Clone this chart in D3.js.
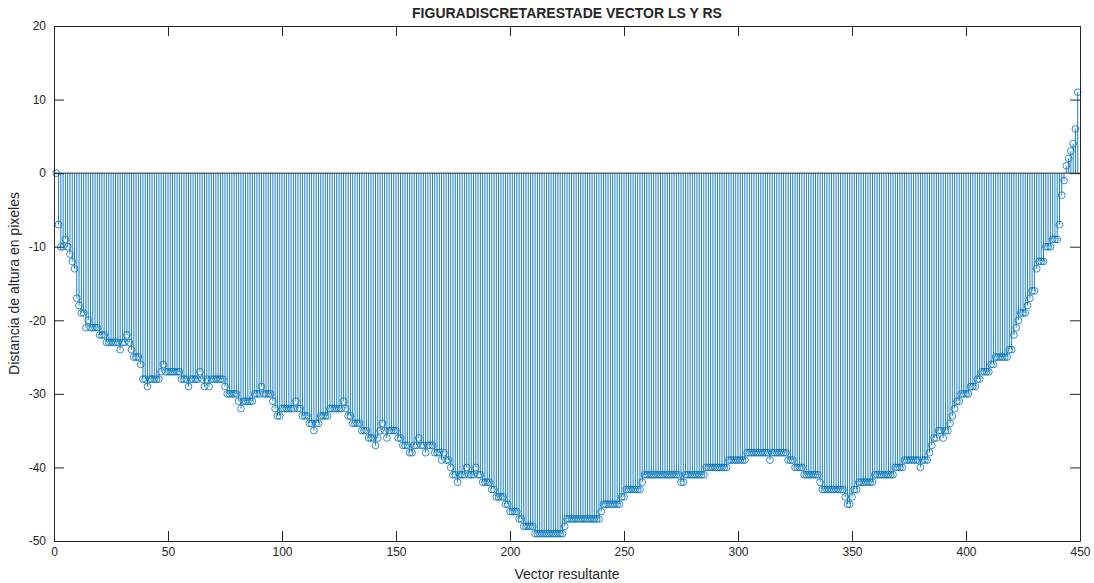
<!DOCTYPE html>
<html>
<head>
<meta charset="utf-8">
<script src="https://cdn.jsdelivr.net/npm/d3@7"></script>
<style>
  body { margin: 0; background: #fff; }
  svg { display: block; }
  text { font-family: "Liberation Sans", Arial, sans-serif; fill: #262626; }
</style>
</head>
<body>
<div class="chart"></div>
<script>
// values, sample 1..449
const diffValues = [
  0, -7, -10, -10, -9, -10, -11, -12, -13, -17,
  -18, -19, -19, -21, -20, -21, -21, -21, -21, -22,
  -22, -22, -23, -23, -23, -23, -23, -23, -24, -23,
  -23, -22, -23, -24, -25, -25, -25, -26, -28, -28,
  -29, -28, -28, -28, -28, -28, -27, -26, -27, -27,
  -27, -27, -27, -27, -27, -28, -28, -28, -29, -28,
  -28, -28, -28, -27, -28, -29, -28, -29, -28, -28,
  -28, -28, -28, -28, -29, -30, -30, -30, -30, -30,
  -31, -32, -31, -31, -31, -31, -31, -30, -30, -30,
  -29, -30, -30, -30, -30, -31, -32, -33, -33, -32,
  -32, -32, -32, -32, -32, -31, -32, -32, -33, -33,
  -33, -34, -34, -35, -34, -34, -33, -33, -33, -33,
  -32, -32, -32, -32, -32, -32, -31, -32, -33, -33,
  -34, -34, -34, -34, -35, -35, -35, -36, -36, -36,
  -37, -36, -35, -34, -35, -36, -35, -35, -35, -35,
  -36, -36, -37, -37, -37, -38, -38, -37, -37, -36,
  -37, -37, -38, -37, -37, -37, -38, -38, -38, -39,
  -38, -39, -39, -40, -41, -41, -42, -41, -41, -41,
  -40, -41, -41, -41, -40, -41, -41, -42, -42, -42,
  -42, -43, -43, -44, -44, -44, -44, -45, -45, -46,
  -46, -46, -46, -47, -47, -48, -48, -48, -48, -48,
  -49, -49, -49, -49, -49, -49, -49, -49, -49, -49,
  -49, -49, -49, -48, -47, -47, -47, -47, -47, -47,
  -47, -47, -47, -47, -47, -47, -47, -47, -47, -46,
  -45, -45, -45, -45, -45, -45, -45, -45, -44, -44,
  -43, -43, -43, -43, -43, -43, -43, -42, -41, -41,
  -41, -41, -41, -41, -41, -41, -41, -41, -41, -41,
  -41, -41, -41, -41, -42, -42, -41, -41, -41, -41,
  -41, -41, -41, -41, -41, -40, -40, -40, -40, -40,
  -40, -40, -40, -40, -40, -39, -39, -39, -39, -39,
  -39, -39, -39, -38, -38, -38, -38, -38, -38, -38,
  -38, -38, -38, -39, -38, -38, -38, -38, -38, -38,
  -38, -39, -39, -39, -40, -40, -40, -40, -41, -41,
  -41, -41, -41, -41, -41, -42, -43, -43, -43, -43,
  -43, -43, -43, -43, -43, -43, -44, -45, -45, -44,
  -43, -43, -42, -42, -42, -42, -42, -42, -42, -41,
  -41, -41, -41, -41, -41, -41, -41, -41, -40, -40,
  -40, -40, -39, -39, -39, -39, -39, -39, -39, -40,
  -39, -39, -39, -38, -37, -36, -36, -35, -35, -36,
  -35, -35, -34, -33, -32, -31, -31, -30, -30, -30,
  -30, -29, -29, -29, -28, -28, -27, -27, -27, -27,
  -26, -26, -25, -25, -25, -25, -25, -25, -24, -24,
  -22, -21, -20, -19, -19, -19, -18, -17, -16, -16,
  -13, -12, -12, -12, -10, -10, -10, -9, -9, -9,
  -7, -3, -1, 1, 2, 3, 4, 6, 11
];
const xTicks = [0, 50, 100, 150, 200, 250, 300, 350, 400, 450];
const yTicks = [20, 10, 0, -10, -20, -30, -40, -50];
const titleText = "FIGURADISCRETARESTADE VECTOR LS Y RS";
const xLabel = "Vector resultante";
const yLabel = "Distancia de altura en pixeles";

const w = 1094, h = 583;
const margin = { top: 26, right: 14, bottom: 42, left: 54 };
const blue = "#0072BD";

const xScale = d3.scaleLinear().domain([0, 450]).range([margin.left, w - margin.right]);
const yScale = d3.scaleLinear().domain([-50, 20]).range([h - margin.bottom, margin.top]);

const svg = d3.select(".chart").append("svg").attr("width", w).attr("height", h);

const points = diffValues.map((v, i) => ({ x: i + 1, y: v }));

// stems
svg.append("g")
  .selectAll("line")
  .data(points)
  .enter()
  .append("line")
  .attr("x1", d => xScale(d.x))
  .attr("x2", d => xScale(d.x))
  .attr("y1", yScale(0))
  .attr("y2", d => yScale(d.y))
  .attr("stroke", blue)
  .attr("stroke-width", 0.9);

// baseline
svg.append("line")
  .attr("x1", xScale(0)).attr("x2", xScale(450))
  .attr("y1", yScale(0)).attr("y2", yScale(0))
  .attr("stroke", "#262626").attr("stroke-width", 1);

// markers
svg.append("g")
  .selectAll("circle")
  .data(points)
  .enter()
  .append("circle")
  .attr("cx", d => xScale(d.x))
  .attr("cy", d => yScale(d.y))
  .attr("r", 3.4)
  .attr("fill", "none")
  .attr("stroke", blue)
  .attr("stroke-width", 0.8);

const tickLen = 10;
const xAxis = d3.axisBottom(xScale).tickValues(xTicks).tickSizeInner(-tickLen).tickSizeOuter(0).tickPadding(6);
const xAxisTop = d3.axisTop(xScale).tickValues(xTicks).tickSizeInner(-tickLen).tickSizeOuter(0).tickFormat("");
const yAxis = d3.axisLeft(yScale).tickValues(yTicks).tickSizeInner(-tickLen).tickSizeOuter(0).tickPadding(8)
  .tickFormat(d => d < 0 ? "-" + Math.abs(d) : d);
const yAxisRight = d3.axisRight(yScale).tickValues(yTicks).tickSizeInner(-tickLen).tickSizeOuter(0).tickFormat("");

function styleAxis(g) {
  g.select(".domain").attr("stroke", "#262626");
  g.selectAll(".tick line").attr("stroke", "#262626");
  g.selectAll("text").attr("font-size", 12).attr("fill", "#262626")
    .attr("font-family", "'Liberation Sans', Arial, sans-serif");
}

svg.append("g").attr("transform", `translate(0,${h - margin.bottom})`).call(xAxis).call(styleAxis);
svg.append("g").attr("transform", `translate(0,${margin.top})`).call(xAxisTop).call(styleAxis);
svg.append("g").attr("transform", `translate(${margin.left},0)`).call(yAxis).call(styleAxis);
svg.append("g").attr("transform", `translate(${w - margin.right},0)`).call(yAxisRight).call(styleAxis);

svg.append("text")
  .attr("x", (margin.left + w - margin.right) / 2)
  .attr("y", 18)
  .attr("text-anchor", "middle")
  .attr("font-size", 14)
  .attr("font-weight", "bold")
  .attr("fill", "#000")
  .text(titleText);

svg.append("text")
  .attr("x", (margin.left + w - margin.right) / 2)
  .attr("y", 579)
  .attr("text-anchor", "middle")
  .attr("font-size", 14)
  .text(xLabel);

svg.append("text")
  .attr("transform", `translate(19,${(margin.top + h - margin.bottom) / 2}) rotate(-90)`)
  .attr("text-anchor", "middle")
  .attr("font-size", 14)
  .text(yLabel);
</script>
</body>
</html>
